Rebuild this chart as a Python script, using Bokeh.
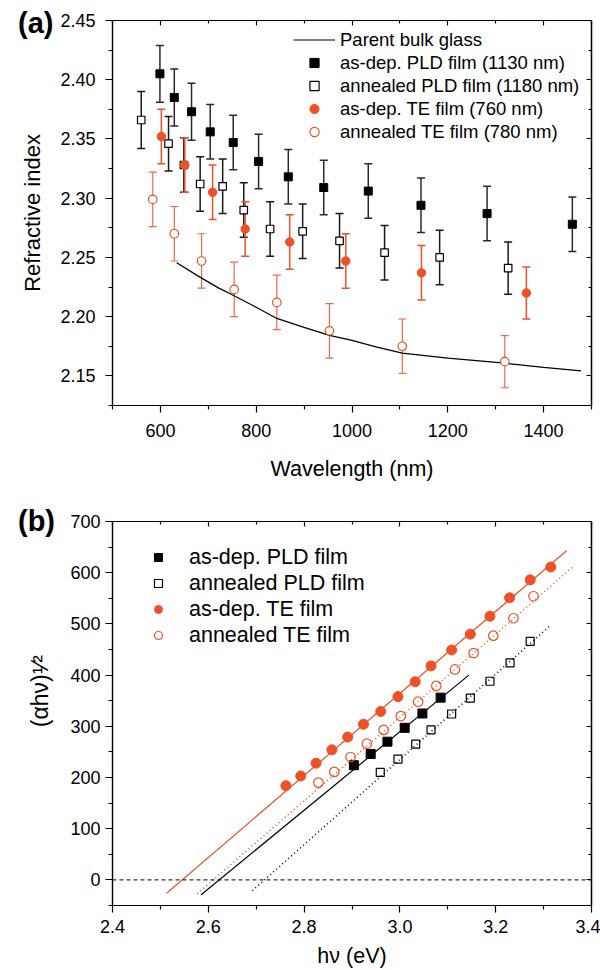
from bokeh.plotting import figure
from bokeh.models import (ColumnDataSource, Whisker, TeeHead, Legend, LegendItem, Div,
                          LinearAxis, FixedTicker, NumeralTickFormatter, Range1d, Span)
from bokeh.layouts import column
from bokeh.embed import file_html
from bokeh.resources import INLINE

FONT = "Liberation Sans"
RED = "#EE5128"
BLK = "#000000"

# ---------------- Panel (a) data ----------------
glass_wl = [634, 680, 720, 754, 800, 843, 900, 953, 1000, 1050, 1105, 1200, 1319, 1400, 1478]
glass_n = [2.2456, 2.234, 2.2245, 2.2177, 2.208, 2.1985, 2.191, 2.1842, 2.180, 2.1745, 2.1692,
           2.1650, 2.1607, 2.1572, 2.1543]

pld_dep_wl = [599, 629, 665, 704, 752, 805, 867, 941, 1034, 1144, 1282, 1460]
pld_dep_n = [2.405, 2.385, 2.373, 2.356, 2.347, 2.331, 2.318, 2.309, 2.306, 2.294, 2.287, 2.278]
pld_dep_err = [0.024, 0.024, 0.024, 0.023, 0.023, 0.023, 0.023, 0.023, 0.023, 0.023, 0.023, 0.023]

pld_ann_wl = [560, 617, 649, 683, 730, 774, 829, 897, 974, 1068, 1183, 1326]
pld_ann_n = [2.366, 2.346, 2.328, 2.312, 2.310, 2.290, 2.274, 2.272, 2.264, 2.254, 2.250, 2.241]
pld_ann_err = [0.024, 0.023, 0.023, 0.023, 0.023, 0.023, 0.023, 0.023, 0.023, 0.023, 0.023, 0.022]

te_dep_wl = [602, 651, 709, 777, 870, 987, 1145, 1364]
te_dep_n = [2.352, 2.328, 2.305, 2.274, 2.263, 2.247, 2.237, 2.220]
te_dep_err = [0.023, 0.023, 0.023, 0.023, 0.023, 0.023, 0.023, 0.022]

te_ann_wl = [584, 629, 686, 754, 843, 953, 1105, 1319]
te_ann_n = [2.299, 2.270, 2.247, 2.223, 2.212, 2.188, 2.175, 2.162]
te_ann_err = [0.023, 0.023, 0.023, 0.023, 0.023, 0.023, 0.023, 0.022]

a_x_ticks = [600, 800, 1000, 1200, 1400]
a_x_minor = [500, 700, 900, 1100, 1300, 1500]
a_y_ticks = [2.15, 2.20, 2.25, 2.30, 2.35, 2.40, 2.45]
a_y_minor = [2.125, 2.175, 2.225, 2.275, 2.325, 2.375, 2.425]

# ---------------- Panel (b) data ----------------
b_te_dep_e = [2.762, 2.793, 2.825, 2.858, 2.891, 2.924, 2.960, 2.996, 3.032, 3.065, 3.108,
              3.147, 3.188, 3.229, 3.272, 3.315]
b_te_dep_v = [184, 203, 228, 254, 279, 304, 329, 358, 387, 418, 449, 480, 515, 551, 586, 611]

b_te_ann_e = [2.830, 2.863, 2.897, 2.931, 2.966, 3.002, 3.038, 3.076, 3.115, 3.154, 3.195,
              3.237, 3.279]
b_te_ann_v = [190, 211, 240, 266, 293, 320, 348, 379, 411, 443, 477, 511, 554]

b_pld_dep_e = [2.904, 2.939, 2.974, 3.010, 3.047, 3.085]
b_pld_dep_v = [224, 246, 270, 297, 325, 356]

b_pld_ann_e = [2.959, 2.996, 3.033, 3.065, 3.108, 3.147, 3.188, 3.230, 3.272]
b_pld_ann_v = [210, 236, 265, 293, 324, 355, 388, 424, 466]

fit_te_dep_e = [2.513, 3.348]
fit_te_dep_v = [-26, 643]
fit_te_ann_e = [2.577, 3.362]
fit_te_ann_v = [-27, 612]
fit_pld_dep_e = [2.585, 3.144]
fit_pld_dep_v = [-29, 400]
fit_pld_ann_e = [2.692, 3.313]
fit_pld_ann_v = [-21, 496]

b_x_ticks = [2.4, 2.6, 2.8, 3.0, 3.2, 3.4]
b_x_minor = [2.5, 2.7, 2.9, 3.1, 3.3]
b_y_ticks = [0, 100, 200, 300, 400, 500, 600, 700]
b_y_minor = [-50, 50, 150, 250, 350, 450, 550, 650]


def style_main_axis(ax, tick_size="18px", label_size="21.5px", standoff=5):
    ax.axis_line_width = 1.2
    ax.axis_line_color = BLK
    ax.major_tick_line_width = 1.2
    ax.minor_tick_line_width = 1.2
    ax.major_tick_line_color = BLK
    ax.minor_tick_line_color = BLK
    ax.major_tick_out = 7
    ax.major_tick_in = 0
    ax.minor_tick_out = 4
    ax.minor_tick_in = 0
    ax.major_label_text_font = FONT
    ax.major_label_text_font_size = tick_size
    ax.major_label_text_color = BLK
    ax.major_label_standoff = standoff
    ax.axis_label_text_font = FONT
    ax.axis_label_text_font_size = label_size
    ax.axis_label_text_font_style = "normal"
    ax.axis_label_text_color = BLK


def add_mirror(p, positions, length, side):
    # tick marks only (no labels): positions given as minor ticks of an unlabeled axis
    ax = LinearAxis(ticker=FixedTicker(ticks=[], minor_ticks=positions))
    ax.major_label_standoff = 0
    ax.major_tick_in = 0
    ax.major_tick_out = 0
    ax.minor_tick_in = length
    ax.minor_tick_out = 0
    ax.axis_line_width = 1.2
    ax.axis_line_color = BLK
    ax.minor_tick_line_width = 1.2
    ax.minor_tick_line_color = BLK
    p.add_layout(ax, side)


def errbars(p, xs, ys, errs, color, width):
    lower = [y - e for y, e in zip(ys, errs)]
    upper = [y + e for y, e in zip(ys, errs)]
    src = ColumnDataSource(dict(x=xs, lower=lower, upper=upper))
    w = Whisker(source=src, base="x", lower="lower", upper="upper", dimension="height",
                line_color=color, line_width=width,
                upper_head=TeeHead(size=8, line_color=color, line_width=width),
                lower_head=TeeHead(size=8, line_color=color, line_width=width))
    p.add_layout(w)


def panel_letter(text, top):
    return Div(text=text, styles={"position": "absolute", "left": "13px", "top": f"{top}px",
                                  "z-index": "10", "font-family": FONT, "font-size": "29px",
                                  "font-weight": "bold", "color": "#000",
                                  "line-height": "33px"})


# ================= Figure (a) =================
pa = figure(width=600, height=493, x_range=Range1d(500, 1500), y_range=Range1d(2.125, 2.45),
            output_backend="svg", toolbar_location=None,
            min_border_left=112, min_border_right=9, min_border_top=20, min_border_bottom=88)
pa.xgrid.visible = False
pa.ygrid.visible = False
pa.outline_line_color = BLK
pa.outline_line_width = 1.2

pa.xaxis.ticker = FixedTicker(ticks=a_x_ticks, minor_ticks=a_x_minor)
pa.yaxis.ticker = FixedTicker(ticks=a_y_ticks, minor_ticks=a_y_minor)
pa.yaxis.formatter = NumeralTickFormatter(format="0.00")
pa.xaxis.axis_label = "Wavelength (nm)"
pa.yaxis.axis_label = "Refractive index"
style_main_axis(pa.xaxis[0], standoff=11)
style_main_axis(pa.yaxis[0], standoff=10)
pa.xaxis.axis_label_standoff = 17
pa.yaxis.axis_label_standoff = 12
pa.yaxis.axis_label_text_font_size = "22px"
add_mirror(pa, a_x_ticks, 5, "above")
add_mirror(pa, a_x_minor, 3, "above")
add_mirror(pa, a_y_ticks, 5, "right")
add_mirror(pa, a_y_minor, 3, "right")

r_glass = pa.line(glass_wl, glass_n, line_color=BLK, line_width=1.2)

errbars(pa, pld_dep_wl, pld_dep_n, pld_dep_err, "#2a2a2a", 1.5)
errbars(pa, pld_ann_wl, pld_ann_n, pld_ann_err, "#1a1a1a", 1.5)
errbars(pa, te_dep_wl, te_dep_n, te_dep_err, RED, 1.5)
errbars(pa, te_ann_wl, te_ann_n, te_ann_err, "#F06A48", 1.2)

r_a1 = pa.scatter(pld_dep_wl, pld_dep_n, marker="square", size=8, fill_color=BLK, line_color=BLK)
r_a2 = pa.scatter(pld_ann_wl, pld_ann_n, marker="square", size=7.5, fill_color="white",
                  line_color=BLK, line_width=1.2)
r_a3 = pa.scatter(te_dep_wl, te_dep_n, marker="circle", size=8.5, fill_color=RED, line_color=RED)
r_a4 = pa.scatter(te_ann_wl, te_ann_n, marker="circle", size=8.5, fill_color="white",
                  line_color=RED, line_width=1.2)

leg_a = Legend(items=[
    LegendItem(label="Parent bulk glass", renderers=[r_glass]),
    LegendItem(label="as-dep. PLD film (1130 nm)", renderers=[r_a1]),
    LegendItem(label="annealed PLD film (1180 nm)", renderers=[r_a2]),
    LegendItem(label="as-dep. TE film (760 nm)", renderers=[r_a3]),
    LegendItem(label="annealed TE film (780 nm)", renderers=[r_a4]),
], location=(181, 262), glyph_width=42, glyph_height=23, label_height=23, spacing=0,
    padding=0, margin=0, label_standoff=5, border_line_color=None, background_fill_alpha=0,
    label_text_font=FONT, label_text_font_size="18.5px", label_text_color=BLK)
pa.add_layout(leg_a)

# ================= Figure (b) =================
pb = figure(width=600, height=477, x_range=Range1d(2.4, 3.4), y_range=Range1d(-50, 700),
            output_backend="svg", toolbar_location=None,
            min_border_left=112, min_border_right=9, min_border_top=28, min_border_bottom=65)
pb.xgrid.visible = False
pb.ygrid.visible = False
pb.outline_line_color = BLK
pb.outline_line_width = 1.2

pb.xaxis.ticker = FixedTicker(ticks=b_x_ticks, minor_ticks=b_x_minor)
pb.yaxis.ticker = FixedTicker(ticks=b_y_ticks, minor_ticks=b_y_minor)
pb.xaxis.formatter = NumeralTickFormatter(format="0.0")
pb.xaxis.axis_label = "hν (eV)"
# zero-width space keeps the leading no-break spaces, which lift the label like the reference
pb.yaxis.axis_label = "\u200b" + "\u00a0" * 7 + "(αhν)\u00b9\u2044\u00b2"
style_main_axis(pb.xaxis[0], standoff=7)
style_main_axis(pb.yaxis[0], standoff=5)
pb.xaxis.axis_label_standoff = 8
pb.yaxis.axis_label_standoff = 14
pb.yaxis.axis_label_text_font_size = "23px"
add_mirror(pb, b_x_ticks, 5, "above")
add_mirror(pb, b_x_minor, 3, "above")
add_mirror(pb, b_y_ticks, 5, "right")
add_mirror(pb, b_y_minor, 3, "right")

pb.add_layout(Span(location=0, dimension="width", line_color=BLK, line_width=1, line_dash="4 3"))

pb.line(fit_te_dep_e, fit_te_dep_v, line_color=RED, line_width=1.2)
pb.line(fit_te_ann_e, fit_te_ann_v, line_color=RED, line_width=1.5, line_dash="1 3")
pb.line(fit_pld_dep_e, fit_pld_dep_v, line_color=BLK, line_width=1.2)
pb.line(fit_pld_ann_e, fit_pld_ann_v, line_color=BLK, line_width=1.5, line_dash="1 3")

r_b1 = pb.scatter(b_pld_dep_e, b_pld_dep_v, marker="square", size=9, fill_color=BLK, line_color=BLK)
r_b2 = pb.scatter(b_pld_ann_e, b_pld_ann_v, marker="square", size=8, fill_color=None,
                  line_color=BLK, line_width=1.2)
r_b3 = pb.scatter(b_te_dep_e, b_te_dep_v, marker="circle", size=10, fill_color=RED, line_color=RED)
r_b4 = pb.scatter(b_te_ann_e, b_te_ann_v, marker="circle", size=9.5, fill_color=None,
                  line_color=RED, line_width=1.2)

leg_b = Legend(items=[
    LegendItem(label="as-dep. PLD film", renderers=[r_b1]),
    LegendItem(label="annealed PLD film", renderers=[r_b2]),
    LegendItem(label="as-dep. TE film", renderers=[r_b3]),
    LegendItem(label="annealed TE film", renderers=[r_b4]),
], location=(36, 257), glyph_width=20, glyph_height=26, label_height=26, spacing=0,
    padding=0, margin=0, label_standoff=21, border_line_color=None, background_fill_alpha=0,
    label_text_font=FONT, label_text_font_size="21.5px", label_text_color=BLK)
pb.add_layout(leg_b)

layout = column(pa, pb, panel_letter("(a)", 2), panel_letter("(b)", 500))
open("out.html", "w").write(file_html(layout, INLINE))
